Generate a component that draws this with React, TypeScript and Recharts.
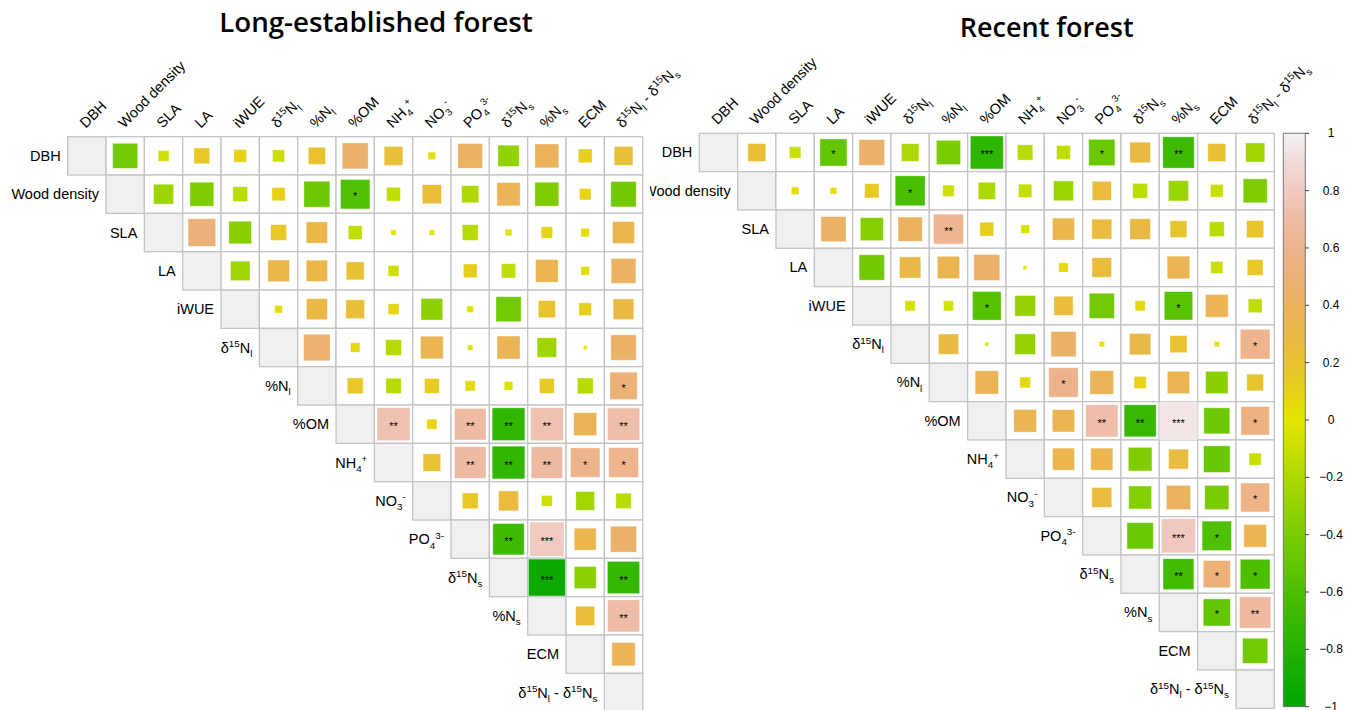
import React from 'react';
import { ScatterChart, Scatter, XAxis, YAxis, BarChart, Bar } from 'recharts';

// ---------------- data ----------------
const VARIABLES = ['DBH', 'Wood density', 'SLA', 'LA', 'iWUE', 'δ15Nl', '%Nl', '%OM', 'NH4+', 'NO3-', 'PO43-', 'δ15Ns', '%Ns', 'ECM', 'δ15Nl - δ15Ns'];

// label parts: [text, 0 normal | 1 superscript | -1 subscript]
const LABEL_PARTS: [string, number][][] = [
  [['DBH', 0]],
  [['Wood density', 0]],
  [['SLA', 0]],
  [['LA', 0]],
  [['iWUE', 0]],
  [['δ', 0], ['15', 1], ['N', 0], ['l', -1]],
  [['%N', 0], ['l', -1]],
  [['%OM', 0]],
  [['NH', 0], ['4', -1], ['+', 1]],
  [['NO', 0], ['3', -1], ['-', 1]],
  [['PO', 0], ['4', -1], ['3-', 1]],
  [['δ', 0], ['15', 1], ['N', 0], ['s', -1]],
  [['%N', 0], ['s', -1]],
  [['ECM', 0]],
  [['δ', 0], ['15', 1], ['N', 0], ['l', -1], [' - δ', 0], ['15', 1], ['N', 0], ['s', -1]],
];

const TITLES = ['Long-established forest', 'Recent forest'];

// upper triangle, row i holds correlations with variables i+1..14
const LONG_R: number[][] = [
  [-0.43, -0.08, 0.17, 0.11, -0.1, 0.2, 0.46, 0.24, 0.04, 0.42, -0.31, 0.39, 0.13, 0.24],
  [-0.27, -0.39, -0.15, 0.12, -0.46, -0.59, -0.13, 0.25, -0.2, 0.37, -0.39, 0.09, -0.44],
  [0.52, -0.35, 0.17, 0.31, -0.13, 0.02, 0.02, -0.17, 0.03, 0.09, 0.05, 0.33],
  [-0.26, 0.32, 0.31, 0.22, -0.08, 0, 0.13, -0.14, 0.35, 0.05, 0.42],
  [0.04, 0.3, 0.24, 0.08, -0.32, 0.03, -0.43, 0.2, 0.11, 0.29],
  [0.48, 0.06, -0.17, 0.35, 0.02, 0.36, -0.26, 0.01, 0.44],
  [0.17, -0.16, 0.15, 0.07, -0.05, 0.15, -0.17, 0.51],
  [0.74, 0.07, 0.68, -0.73, 0.74, 0.36, 0.71],
  [0.21, 0.68, -0.73, 0.68, 0.59, 0.6],
  [0.17, 0.27, -0.08, -0.24, -0.16],
  [-0.67, 0.8, 0.33, 0.46],
  [-0.93, -0.33, -0.71],
  [0.25, 0.7],
  [0.37],
];

const LONG_SIG: [number, number, string][] = [
  [1, 7, '*'], [6, 14, '*'], [7, 8, '**'], [7, 10, '**'], [7, 11, '**'], [7, 12, '**'], [7, 14, '**'],
  [8, 10, '**'], [8, 11, '**'], [8, 12, '**'], [8, 13, '*'], [8, 14, '*'], [10, 11, '**'], [10, 12, '***'],
  [11, 12, '***'], [11, 14, '**'], [12, 14, '**'],
];

const RECENT_R: number[][] = [
  [0.22, -0.09, -0.5, 0.45, -0.21, -0.4, -0.74, -0.16, -0.13, -0.47, 0.29, -0.67, 0.22, -0.25],
  [0.04, 0.03, 0.14, -0.61, -0.09, -0.2, -0.12, -0.27, 0.25, -0.15, -0.28, -0.11, -0.39],
  [0.43, -0.36, 0.4, 0.61, 0.13, -0.05, 0.33, 0.27, 0.29, 0.19, -0.15, 0.2],
  [-0.44, 0.31, 0.34, 0.46, 0.01, 0.06, 0.26, 0, 0.35, -0.1, 0.17],
  [-0.07, -0.07, -0.56, -0.29, 0.25, -0.43, 0.07, -0.55, 0.35, -0.13],
  [0.28, 0.01, -0.29, 0.43, 0.02, 0.31, 0.2, 0.02, 0.6],
  [0.37, 0.08, 0.59, 0.38, 0.1, 0.34, -0.34, 0.19],
  [0.35, 0.34, 0.71, -0.7, 0.95, -0.46, 0.55],
  [0.33, 0.33, -0.38, 0.27, -0.48, -0.1],
  [0.27, -0.36, 0.4, -0.4, 0.57],
  [-0.47, 0.79, -0.59, 0.35],
  [-0.65, 0.5, -0.6],
  [-0.5, 0.67],
  [-0.43],
];

const RECENT_SIG: [number, number, string][] = [
  [0, 3, '*'], [0, 7, '***'], [0, 10, '*'], [0, 12, '**'], [1, 5, '*'], [2, 6, '**'], [4, 7, '*'], [4, 12, '*'],
  [5, 14, '*'], [6, 9, '*'], [7, 10, '**'], [7, 11, '**'], [7, 12, '***'], [7, 14, '*'], [9, 14, '*'],
  [10, 12, '***'], [10, 13, '*'], [11, 12, '**'], [11, 13, '*'], [11, 14, '*'], [12, 13, '*'], [12, 14, '**'],
];

const COLORBAR_TICKS = [-1, -0.8, -0.6, -0.4, -0.2, 0, 0.2, 0.4, 0.6, 0.8, 1];

// ---------------- styling helpers ----------------
const N = VARIABLES.length;
const PLOT = 575;
const CELL = PLOT / N;
const FONT = '"Liberation Sans", Arial, Helvetica, sans-serif';

function hsv(h: number, s: number, v: number): string {
  const i = Math.floor(h * 6);
  const f = h * 6 - i;
  const p = v * (1 - s);
  const q = v * (1 - f * s);
  const t = v * (1 - (1 - f) * s);
  let r = 0, g = 0, b = 0;
  switch (((i % 6) + 6) % 6) {
    case 0: r = v; g = t; b = p; break;
    case 1: r = q; g = v; b = p; break;
    case 2: r = p; g = v; b = t; break;
    case 3: r = p; g = q; b = v; break;
    case 4: r = t; g = p; b = v; break;
    default: r = v; g = p; b = q;
  }
  const hx = (x: number) => Math.round(x * 255).toString(16).padStart(2, '0');
  return '#' + hx(r) + hx(g) + hx(b);
}

// terrain-like palette: green (-1) -> yellow (0) -> orange/pink -> light grey (1)
function corrColor(r: number): string {
  if (r <= 0) {
    const t = r + 1;
    return hsv(1 / 3 - t / 6, 1, 0.65 + 0.25 * t);
  }
  return hsv(1 / 6 - r / 6, 1 - r, 0.9 + 0.05 * r);
}

function renderParts(parts: [string, number][], fs: number) {
  let cur = 0;
  return parts.map(([t, k], idx) => {
    const target = k === 1 ? -fs * 0.38 : k === -1 ? fs * 0.3 : 0;
    const dy = target - cur;
    cur = target;
    return (
      <tspan key={idx} dy={dy} fontSize={k ? fs * 0.68 : fs}>
        {t}
      </tspan>
    );
  });
}

const LABEL_FS = 14.5;

const CellShape = (p: any) => (
  <rect
    x={p.cx - CELL / 2}
    y={p.cy - CELL / 2}
    width={CELL}
    height={CELL}
    fill={p.payload.diag ? '#F0F0F0' : '#FFFFFF'}
    stroke="#C4C4C4"
    strokeWidth={1.3}
  />
);

const SquareShape = (p: any) => {
  const r = p.payload.r as number;
  const side = Math.sqrt(Math.abs(r)) * CELL;
  return (
    <g>
      {side > 0 && (
        <rect
          x={p.cx - side / 2}
          y={p.cy - side / 2}
          width={side}
          height={side}
          fill={corrColor(r)}
          stroke="#ffffff"
          strokeOpacity={0.5}
          strokeWidth={0.8}
        />
      )}
      {p.payload.sig && (
        <text x={p.cx} y={p.cy + 6} textAnchor="middle" fontSize={11} fontFamily={FONT} fill="#000">
          {p.payload.sig}
        </text>
      )}
    </g>
  );
};

const RowLabelShape = (p: any) => (
  <text x={p.cx - CELL / 2 - 7} y={p.cy + 5} textAnchor="end" fontSize={LABEL_FS} fontFamily={FONT} fill="#000">
    {renderParts(LABEL_PARTS[p.payload.idx], LABEL_FS)}
  </text>
);

const ColLabelShape = (p: any) => {
  const ax = p.cx - 1;
  const ay = p.cy - CELL / 2 - 8;
  return (
    <text x={ax} y={ay} transform={`rotate(-45 ${ax} ${ay})`} textAnchor="start" fontSize={LABEL_FS} fontFamily={FONT} fill="#000">
      {renderParts(LABEL_PARTS[p.payload.idx], LABEL_FS)}
    </text>
  );
};

function buildData(R: number[][], SIG: [number, number, string][]) {
  const cells: any[] = [];
  const squares: any[] = [];
  const rows: any[] = [];
  const cols: any[] = [];
  for (let i = 0; i < N; i++) {
    rows.push({ x: i + 0.5, y: i + 0.5, idx: i });
    cols.push({ x: i + 0.5, y: 0.5, idx: i });
    for (let j = i; j < N; j++) {
      cells.push({ x: j + 0.5, y: i + 0.5, diag: i === j });
      if (j > i) {
        const s = SIG.find((e) => e[0] === i && e[1] === j);
        squares.push({ x: j + 0.5, y: i + 0.5, r: R[i][j - i - 1], sig: s ? s[2] : '' });
      }
    }
  }
  return { cells, squares, rows, cols };
}

function Matrix(props: { R: number[][]; SIG: [number, number, string][]; left: number; width: number; height: number; mLeft: number; mTop: number }) {
  const { R, SIG, left, width, height, mLeft, mTop } = props;
  const d = buildData(R, SIG);
  return (
    <div style={{ position: 'absolute', left, top: 0 }}>
      <ScatterChart
        width={width}
        height={height}
        margin={{ top: mTop, left: mLeft, right: width - mLeft - PLOT, bottom: height - mTop - PLOT }}
      >
        <XAxis type="number" dataKey="x" domain={[0, N]} hide />
        <YAxis type="number" dataKey="y" domain={[0, N]} reversed hide />
        <Scatter data={d.cells} shape={CellShape} isAnimationActive={false} />
        <Scatter data={d.squares} shape={SquareShape} isAnimationActive={false} />
        <Scatter data={d.rows} shape={RowLabelShape} isAnimationActive={false} />
        <Scatter data={d.cols} shape={ColLabelShape} isAnimationActive={false} />
      </ScatterChart>
    </div>
  );
}

const fmtTick = (v: number) => (v < 0 ? '\u2212' + String(Math.abs(v)) : String(v));

const CbTick = (p: any) => (
  <text x={61} y={p.y + 4} textAnchor="middle" fontSize={12} fontFamily={FONT} fill="#000">
    {fmtTick(p.payload.value)}
  </text>
);

function ColorBar() {
  const stops = [];
  for (let k = 0; k <= 40; k++) {
    const v = 1 - k / 20;
    stops.push(<stop key={k} offset={`${(k / 40) * 100}%`} stopColor={corrColor(v)} />);
  }
  return (
    <div style={{ position: 'absolute', left: 1270, top: 0 }}>
      <BarChart
        width={89}
        height={715}
        data={[{ k: 'cb', v: [-1, 1] }]}
        barCategoryGap={0}
        margin={{ top: 133.3, bottom: 715 - 133.3 - 573.4, left: 13.3, right: 14 }}
      >
        <defs>
          <linearGradient id="cbGrad" x1="0" y1="0" x2="0" y2="1">
            {stops}
          </linearGradient>
        </defs>
        <XAxis dataKey="k" hide />
        <YAxis
          orientation="right"
          type="number"
          domain={[-1, 1]}
          ticks={COLORBAR_TICKS}
          interval={0}
          width={40}
          axisLine={false}
          tickLine={{ stroke: '#444' }}
          tickSize={4}
          tick={CbTick}
        />
        <Bar dataKey="v" fill="url(#cbGrad)" stroke="#777" strokeWidth={1} isAnimationActive={false} />
      </BarChart>
    </div>
  );
}

export default function App() {
  return (
    <div style={{ position: 'absolute', left: 0, top: 0, width: 1359, height: 710, overflow: 'hidden', background: '#fff' }}>
      <svg width={1359} height={50} style={{ position: 'absolute', left: 0, top: 0 }}>
        <text x={376} y={31.7} textAnchor="middle" fontFamily='"Open Sans", sans-serif' fontWeight={600} fontSize={27.7} fill="#000">
          {TITLES[0]}
        </text>
        <text x={1046.7} y={36.5} textAnchor="middle" fontFamily='"Open Sans", sans-serif' fontWeight={600} fontSize={27} fill="#000">
          {TITLES[1]}
        </text>
      </svg>
      <Matrix R={LONG_R} SIG={LONG_SIG} left={0} width={705} height={715} mLeft={67.7} mTop={136.7} />
      <Matrix R={RECENT_R} SIG={RECENT_SIG} left={650} width={709} height={715} mLeft={49.3} mTop={133.3} />
      <ColorBar />
    </div>
  );
}
